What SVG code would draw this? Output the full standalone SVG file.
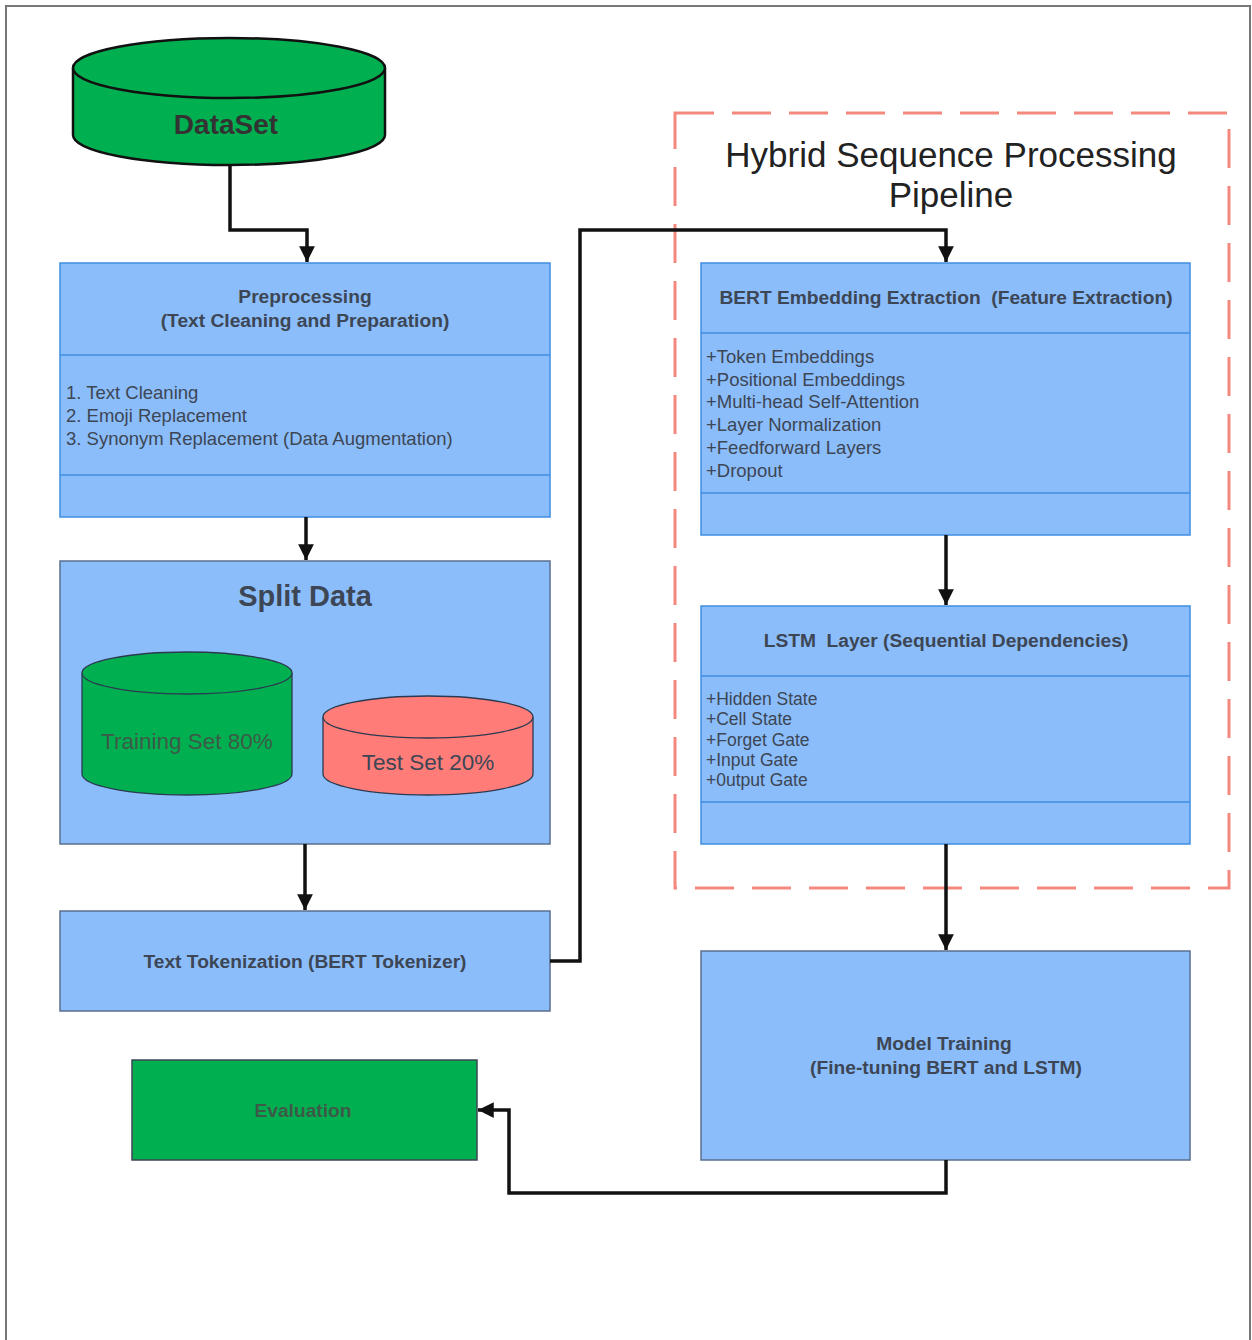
<svg xmlns="http://www.w3.org/2000/svg" width="1252" height="1340" viewBox="0 0 1252 1340">
<style>
  text { font-family: "Liberation Sans", Arial, sans-serif; fill: #3d4654; white-space: pre; }
  .b { font-weight: bold; font-size: 19.2px; text-anchor: middle; }
  .li { font-size: 18.5px; }
  .li2 { font-size: 17.5px; }
  .box { fill: #8bbdfb; stroke: #3f8ee0; stroke-width: 1.5; }
  .box2 { fill: #8bbdfb; stroke: #5a6f8e; stroke-width: 1.5; }
  .div { stroke: #3f8ee0; stroke-width: 1.5; }
  .conn { fill: none; stroke: #111; stroke-width: 3.5; }
</style>
<defs>
  <marker id="arr" viewBox="0 0 10 10" refX="10" refY="5" markerWidth="4.5" markerHeight="4.5" orient="auto" markerUnits="strokeWidth">
    <path d="M0,0 L10,5 L0,10 z" fill="#111"/>
  </marker>
</defs>
<rect x="0" y="0" width="1252" height="1340" fill="#ffffff"/>
<path d="M6,1340 V6 H1250 V1340" fill="none" stroke="#777" stroke-width="2"/>

<g id="pipeline-group">
  <rect x="675" y="113" width="554" height="775" fill="none" stroke="#f4877e" stroke-width="3" stroke-dasharray="39 18"/>
  <text x="951" y="167" style="font-size:35px;text-anchor:middle;fill:#222">Hybrid Sequence Processing</text>
  <text x="951" y="207" style="font-size:35px;text-anchor:middle;fill:#222">Pipeline</text>
</g>

<g id="dataset">
  <path d="M73,68 V135 A156,30 0 0 0 385,135 V68" fill="#00b050" stroke="#111" stroke-width="2.5"/>
  <ellipse cx="229" cy="68" rx="156" ry="30" fill="#00b050" stroke="#111" stroke-width="2.5"/>
  <text x="226" y="134" style="font-size:28px;font-weight:bold;text-anchor:middle;fill:#333">DataSet</text>
</g>

<g id="preprocessing">
  <rect class="box" x="60" y="263" width="490" height="254"/>
  <line class="div" x1="60" y1="355" x2="550" y2="355"/>
  <line class="div" x1="60" y1="475" x2="550" y2="475"/>
  <text class="b" x="305" y="303">Preprocessing</text>
  <text class="b" x="305" y="327">(Text Cleaning and Preparation)</text>
  <text class="li" x="66" y="399">1. Text Cleaning</text>
  <text class="li" x="66" y="422">2. Emoji Replacement</text>
  <text class="li" x="66" y="445">3. Synonym Replacement (Data Augmentation)</text>
</g>

<g id="split-data">
  <rect class="box2" x="60" y="561" width="490" height="283"/>
  <text x="305" y="606" style="font-size:29px;font-weight:bold;text-anchor:middle">Split Data</text>
  <g id="training-set">
    <path d="M82,673 V774 A105,21 0 0 0 292,774 V673" fill="#00b050" stroke="#2a3a50" stroke-width="1.3"/>
    <ellipse cx="187" cy="673" rx="105" ry="21" fill="#00b050" stroke="#2a3a50" stroke-width="1.3"/>
    <text x="187" y="749" style="font-size:22.5px;text-anchor:middle;fill:#3d5a48">Training Set 80%</text>
  </g>
  <g id="test-set">
    <path d="M323,717 V774 A105,21 0 0 0 533,774 V717" fill="#ff7c79" stroke="#2a3a50" stroke-width="1.3"/>
    <ellipse cx="428" cy="717" rx="105" ry="21" fill="#ff7c79" stroke="#2a3a50" stroke-width="1.3"/>
    <text x="428" y="770" style="font-size:22.5px;text-anchor:middle;fill:#3d4654">Test Set 20%</text>
  </g>
</g>

<g id="tokenization">
  <rect class="box2" x="60" y="911" width="490" height="100"/>
  <text class="b" x="305" y="968">Text Tokenization (BERT Tokenizer)</text>
</g>

<g id="evaluation">
  <rect x="132" y="1060" width="345" height="100" fill="#00b050" stroke="#3d4654" stroke-width="1.5"/>
  <text class="b" x="303" y="1117" style="fill:#3d5a48">Evaluation</text>
</g>

<g id="bert">
  <rect class="box" x="701" y="263" width="489" height="272"/>
  <line class="div" x1="701" y1="333" x2="1190" y2="333"/>
  <line class="div" x1="701" y1="493" x2="1190" y2="493"/>
  <text class="b" x="946" y="304">BERT Embedding Extraction  (Feature Extraction)</text>
  <text class="li" x="706" y="363">+Token Embeddings</text>
  <text class="li" x="706" y="386">+Positional Embeddings</text>
  <text class="li" x="706" y="408">+Multi-head Self-Attention</text>
  <text class="li" x="706" y="431">+Layer Normalization</text>
  <text class="li" x="706" y="454">+Feedforward Layers</text>
  <text class="li" x="706" y="477">+Dropout</text>
</g>

<g id="lstm">
  <rect class="box" x="701" y="606" width="489" height="238"/>
  <line class="div" x1="701" y1="676" x2="1190" y2="676"/>
  <line class="div" x1="701" y1="802" x2="1190" y2="802"/>
  <text class="b" x="946" y="647">LSTM  Layer (Sequential Dependencies)</text>
  <text class="li2" x="706" y="705">+Hidden State</text>
  <text class="li2" x="706" y="725">+Cell State</text>
  <text class="li2" x="706" y="746">+Forget Gate</text>
  <text class="li2" x="706" y="766">+Input Gate</text>
  <text class="li2" x="706" y="786">+0utput Gate</text>
</g>

<g id="model-training">
  <rect class="box2" x="701" y="951" width="489" height="209"/>
  <text class="b" x="944" y="1050">Model Training</text>
  <text class="b" x="946" y="1074">(Fine-tuning BERT and LSTM)</text>
</g>

<g id="connectors">
  <path class="conn" d="M230,165 V230 H307 V262" marker-end="url(#arr)"/>
  <path class="conn" d="M306,517 V560" marker-end="url(#arr)"/>
  <path class="conn" d="M305,844 V910" marker-end="url(#arr)"/>
  <path class="conn" d="M550,961 H580 V230 H946 V262" marker-end="url(#arr)"/>
  <path class="conn" d="M946,535 V605" marker-end="url(#arr)"/>
  <path class="conn" d="M946,844 V950" marker-end="url(#arr)"/>
  <path class="conn" d="M946,1160 V1193 H509 V1110 H478" marker-end="url(#arr)"/>
</g>
</svg>
